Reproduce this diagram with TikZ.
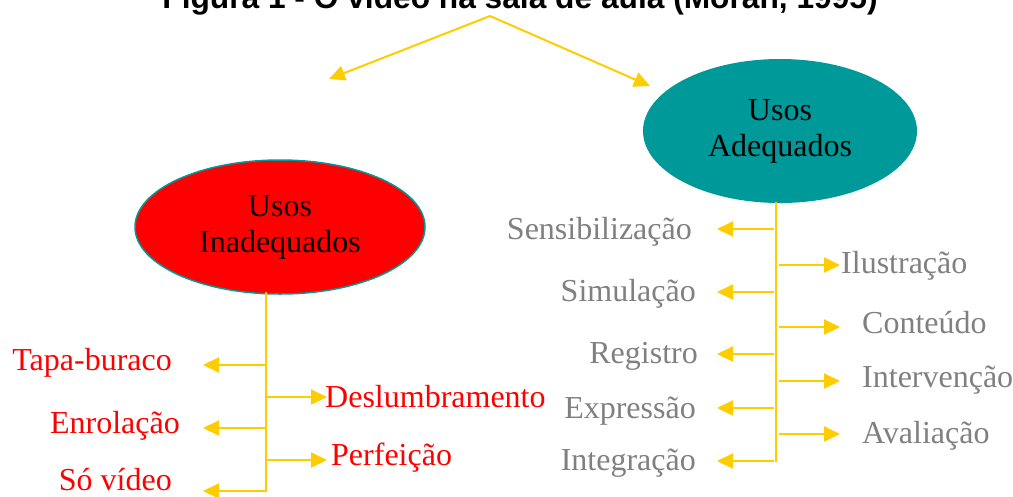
\documentclass[tikz,border=0pt]{standalone}
\usepackage{fontspec}
\setmainfont{Liberation Serif}
\newfontfamily\titlefont{Liberation Sans}
\usetikzlibrary{shapes.geometric, arrows.meta, positioning}

\definecolor{gold}{HTML}{FFCC00}
\definecolor{tealfill}{HTML}{009999}
\definecolor{usored}{HTML}{FF0000}
\definecolor{usogray}{HTML}{808080}

\tikzset{
	uso/.style={ellipse, inner sep=0pt, align=center, text=black,
		font=\fontsize{32}{36}\selectfont},
	ramo/.style={gold, line width=2pt, -{Triangle[length=16pt,width=15pt]}},
	haste/.style={gold, line width=2pt},
	mau/.style={usored, inner sep=0pt, font=\fontsize{32}{36}\selectfont},
	bom/.style={usogray, inner sep=0pt, font=\fontsize{32}{36}\selectfont}
}

\begin{document}
\begin{tikzpicture}[x=1pt, y=-1pt]
	\useasboundingbox (0,0) rectangle (1013,496);
	% NOTE: y grows downwards here, values read as pixels of the figure.
	\node[anchor=base, inner sep=0pt, font=\titlefont\bfseries\fontsize{31.7}{36}\selectfont]
		(titulo) at (520,8) {Figura 1 - O vídeo na sala de aula (Moran, 1995)};
	\coordinate (topo) at (490,16);
	\coordinate (setaE) at (329,79);
	\coordinate (setaD) at (650,86);
	\draw[ramo] (topo) -- (setaE);
	\draw[ramo] (topo) -- (setaD);

	\node[uso, fill=usored, draw=tealfill, line width=1.5pt,
		minimum width=290pt, minimum height=134pt] (inad) at (280,227)
		{Usos\\Inadequados};
	\node[uso, fill=tealfill, minimum width=274pt, minimum height=144pt]
		(adeq) at (780,131) {Usos\\Adequados};

	% stems
	\coordinate (hE) at (266,292);
	\coordinate (hD) at (776,202);
	\draw[haste] (hE) -- (266,492);
	\draw[haste] (hD) -- (776,462);

	% inadequate uses, left side
	\foreach \nome/\txt/\y/\xb/\yb in {tapa/Tapa-buraco/365/172/370,
			enrol/Enrolação/428/180/433, sovideo/Só vídeo/491/172/490} {
		\node[mau, anchor=base east] (\nome) at (\xb,\yb) {\txt};
		\coordinate (\nome-p) at (203,\y);
		\draw[ramo] (hE |- \nome-p) -- (\nome-p);
	}
	% inadequate uses, right side
	\foreach \nome/\txt/\y/\xb/\yb in {deslumb/Deslumbramento/397/325/407,
			perf/Perfeição/460/331/465} {
		\node[mau, anchor=base west] (\nome) at (\xb,\yb) {\txt};
		\coordinate (\nome-p) at (327,\y);
		\draw[ramo] (hE |- \nome-p) -- (\nome-p);
	}

	% adequate uses, left side
	\foreach \nome/\txt/\y/\xb/\yb in {sens/Sensibilização/229/692/239,
			simul/Simulação/292/696/301, regis/Registro/354/698/363,
			expr/Expressão/408/696/418, integ/Integração/461/696/470} {
		\node[bom, anchor=base east] (\nome) at (\xb,\yb) {\txt};
		\coordinate (\nome-p) at (717,\y);
		\draw[ramo] (774,\y) -- (\nome-p);
	}
	% adequate uses, right side
	\foreach \nome/\txt/\y/\xb/\yb in {ilus/Ilustração/265/841/273,
			cont/Conteúdo/327/862/333, interv/Intervenção/381/862/387,
			aval/Avaliação/434/862/443} {
		\node[bom, anchor=base west] (\nome) at (\xb,\yb) {\txt};
		\coordinate (\nome-p) at (840,\y);
		\draw[ramo] (779,\y) -- (\nome-p);
	}
\end{tikzpicture}
\end{document}
